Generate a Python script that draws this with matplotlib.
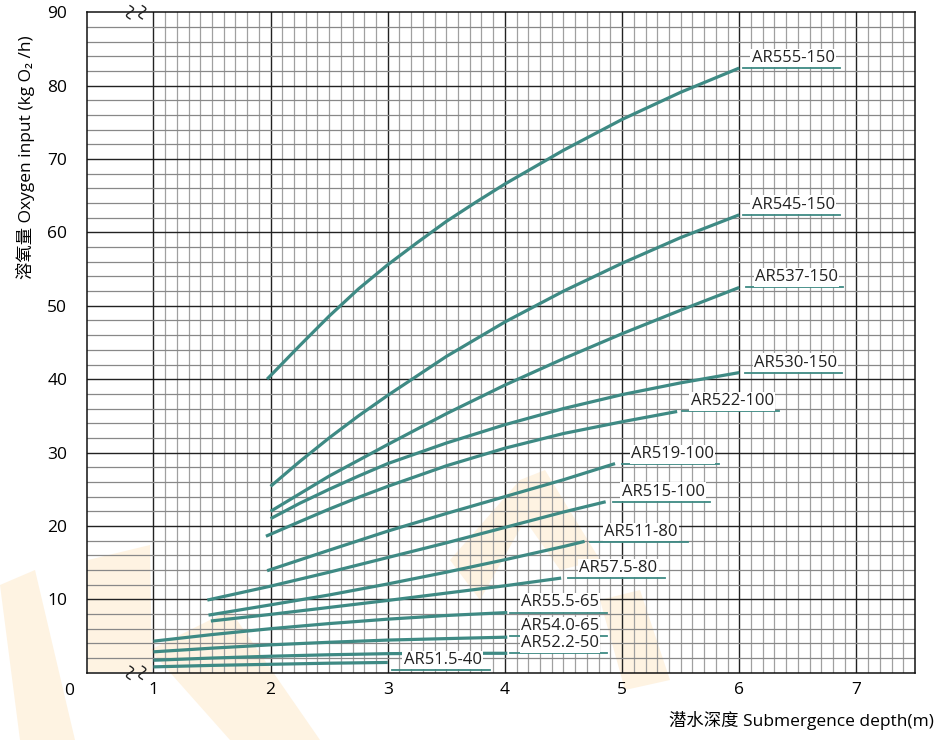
import numpy as np
import matplotlib.pyplot as plt
from matplotlib.ticker import FixedLocator
from matplotlib.patches import Polygon

# oxygen input (kg O2/h) against submergence depth (m)
models = ['AR555-150', 'AR545-150', 'AR537-150', 'AR530-150', 'AR522-100',
          'AR519-100', 'AR515-100', 'AR511-80', 'AR57.5-80', 'AR55.5-65',
          'AR54.0-65', 'AR52.2-50', 'AR51.5-40']

ar555_x = [1.97, 2.25, 2.5, 2.75, 3, 3.25, 3.5, 3.75, 4, 4.5, 5, 5.5, 6]
ar555_y = [40.0, 44.6, 48.6, 52.3, 55.6, 58.6, 61.5, 64.1, 66.6, 71.2, 75.4, 79.1, 82.4]
ar545_x = [2, 2.25, 2.5, 2.75, 3, 3.5, 4, 4.5, 5, 5.5, 6]
ar545_y = [25.4, 28.8, 32.0, 35.0, 37.8, 43.1, 47.8, 52.0, 55.8, 59.3, 62.4]
ar537_x = [2, 2.5, 3, 3.5, 4, 4.5, 5, 5.5, 6]
ar537_y = [22.0, 26.8, 31.1, 35.3, 39.2, 42.8, 46.2, 49.4, 52.5]
ar530_x = [2, 2.25, 2.5, 2.75, 3, 3.5, 4, 4.5, 5, 5.5, 6]
ar530_y = [21.0, 23.1, 25.0, 26.8, 28.5, 31.3, 33.8, 36.0, 37.9, 39.5, 40.9]
ar522_x = [1.96, 2.25, 2.5, 2.75, 3, 3.5, 4, 4.5, 5, 5.47]
ar522_y = [18.6, 20.6, 22.3, 23.9, 25.4, 28.2, 30.6, 32.6, 34.2, 35.6]
ar519_x = [1.97, 2.5, 3, 3.5, 4, 4.5, 4.94]
ar519_y = [13.9, 16.7, 19.3, 21.7, 24.0, 26.3, 28.5]
ar515_x = [1.46, 2, 2.5, 3, 3.5, 4, 4.5, 4.86]
ar515_y = [9.9, 11.8, 13.7, 15.7, 17.7, 19.8, 21.9, 23.3]
ar511_x = [1.47, 2, 2.5, 3, 3.5, 4, 4.5, 4.68]
ar511_y = [7.85, 9.25, 10.6, 12.1, 13.7, 15.4, 17.2, 17.9]
ar575_x = [1.49, 2, 2.5, 3, 3.5, 4, 4.48]
ar575_y = [7.05, 7.95, 8.9, 9.85, 10.85, 11.85, 12.9]
ar555b_x = [1, 1.5, 2, 2.5, 3, 3.5, 4.02]
ar555b_y = [4.3, 5.2, 6.0, 6.7, 7.3, 7.8, 8.2]
ar540_x = [1, 1.5, 2, 2.5, 3, 3.5, 4.02]
ar540_y = [2.85, 3.35, 3.8, 4.15, 4.45, 4.65, 4.85]
ar522b_x = [1, 1.5, 2, 2.5, 3, 3.5, 4.02]
ar522b_y = [1.7, 2.0, 2.25, 2.45, 2.6, 2.65, 2.65]
ar515b_x = [1, 1.5, 2, 2.5, 3]
ar515b_y = [0.8, 1.0, 1.15, 1.3, 1.4]

curves_x = [ar555_x, ar545_x, ar537_x, ar530_x, ar522_x, ar519_x, ar515_x,
            ar511_x, ar575_x, ar555b_x, ar540_x, ar522b_x, ar515b_x]
curves_y = [ar555_y, ar545_y, ar537_y, ar530_y, ar522_y, ar519_y, ar515_y,
            ar511_y, ar575_y, ar555b_y, ar540_y, ar522b_y, ar515b_y]

# where each name tag (underline start) sits
lab_x = [6.03, 6.03, 6.06, 6.05, 5.51, 5.0, 4.92, 4.73, 4.54, 4.04, 4.04, 4.04, 3.04]
lab_y = [82.4, 62.4, 52.5, 40.9, 35.6, 28.4, 23.3, 17.8, 12.9, 8.2, 5.0, 2.65, 0.37]

xticks = [1, 2, 3, 4, 5, 6, 7]
yticks = [10, 20, 30, 40, 50, 60, 70, 80, 90]

teal = '#3e8a84'
plt.rcParams['font.family'] = ['Open Sans', 'Noto Sans CJK SC', 'DejaVu Sans']

fig = plt.figure(figsize=(9.39, 7.40), dpi=100)

# faint watermark behind the chart
W, H = 939.0, 740.0
def px(pts):
    return [(a / W, 1 - b / H) for a, b in pts]
blobs = [
    [(0, 585), (35, 570), (75, 740), (20, 740)],
    [(88, 560), (150, 545), (152, 672), (88, 672)],
    [(150, 650), (230, 610), (320, 740), (230, 740)],
    [(450, 560), (520, 480), (545, 470), (600, 560), (560, 570), (525, 520), (480, 600)],
    [(600, 600), (640, 590), (670, 680), (625, 690)],
]
for b in blobs:
    fig.patches.append(Polygon(px(b), closed=True, transform=fig.transFigure,
                               facecolor='#fef3e2', edgecolor='none', zorder=-2))

ax = fig.add_axes([0.0923, 0.0909, 0.9744 - 0.0923, 0.9834 - 0.0909])
ax.patch.set_alpha(0)
ax.set_xlim(0.43, 7.5)
ax.set_ylim(0, 90)

# grid: fine lines only right of the axis break
for v in np.arange(1, 7.5, 0.1):
    heavy = abs(v - round(v)) < 1e-6
    ax.axvline(v, color='#222222' if heavy else '#a0a0a0', lw=1.0 if heavy else 0.9, zorder=1)
for h in np.arange(2, 90, 2):
    heavy = h % 10 == 0
    ax.axhline(h, color='#222222' if heavy else '#888888', lw=1.0 if heavy else 0.9, zorder=1)

ax.xaxis.set_major_locator(FixedLocator(xticks))
ax.yaxis.set_major_locator(FixedLocator(yticks))
ax.tick_params(length=0, labelsize=12.5)
ax.tick_params(axis='x', pad=7)
ax.tick_params(axis='y', pad=14)
for s in ax.spines.values():
    s.set_color('#111111')
    s.set_linewidth(1.1)

ax.annotate('0', xy=(0.28, 0), xycoords=('data', 'axes fraction'), xytext=(0, -7.5),
            textcoords='offset points', ha='center', va='top', fontsize=12.5, annotation_clip=False)

for cx, cy in zip(curves_x, curves_y):
    ax.plot(cx, cy, color=teal, lw=2.3, solid_capstyle='butt', solid_joinstyle='round', zorder=3)

for name, lx, ly in zip(models, lab_x, lab_y):
    ax.plot([lx, lx + 0.83], [ly, ly], color=teal, lw=1.3, zorder=3)
    ax.annotate(name, xy=(lx + 0.43, ly), xytext=(0, 1.5), textcoords='offset points',
                ha='center', va='bottom', fontsize=12, color='#222222', zorder=4,
                bbox=dict(boxstyle='square,pad=0.08', fc='white', ec='none'))

# axis break marks
t = np.linspace(-1, 1, 30)
for bx in (0.80, 0.905):
    for by in (0, 90):
        ax.plot(bx + 0.03 * np.sin(t * np.pi), by + 0.9 * t, color='#222222', lw=1.0,
                clip_on=False, zorder=5)

ax.text(-0.074, 0.781, '溶氧量 Oxygen input (kg O₂ /h)', transform=ax.transAxes,
        rotation=90, ha='center', va='center', fontsize=12.5)
fig.text(0.995, 1 - 721 / H, '潜水深度 Submergence depth(m)', ha='right', va='center',
         fontsize=12.5)

fig.savefig('out.png', dpi=100)
